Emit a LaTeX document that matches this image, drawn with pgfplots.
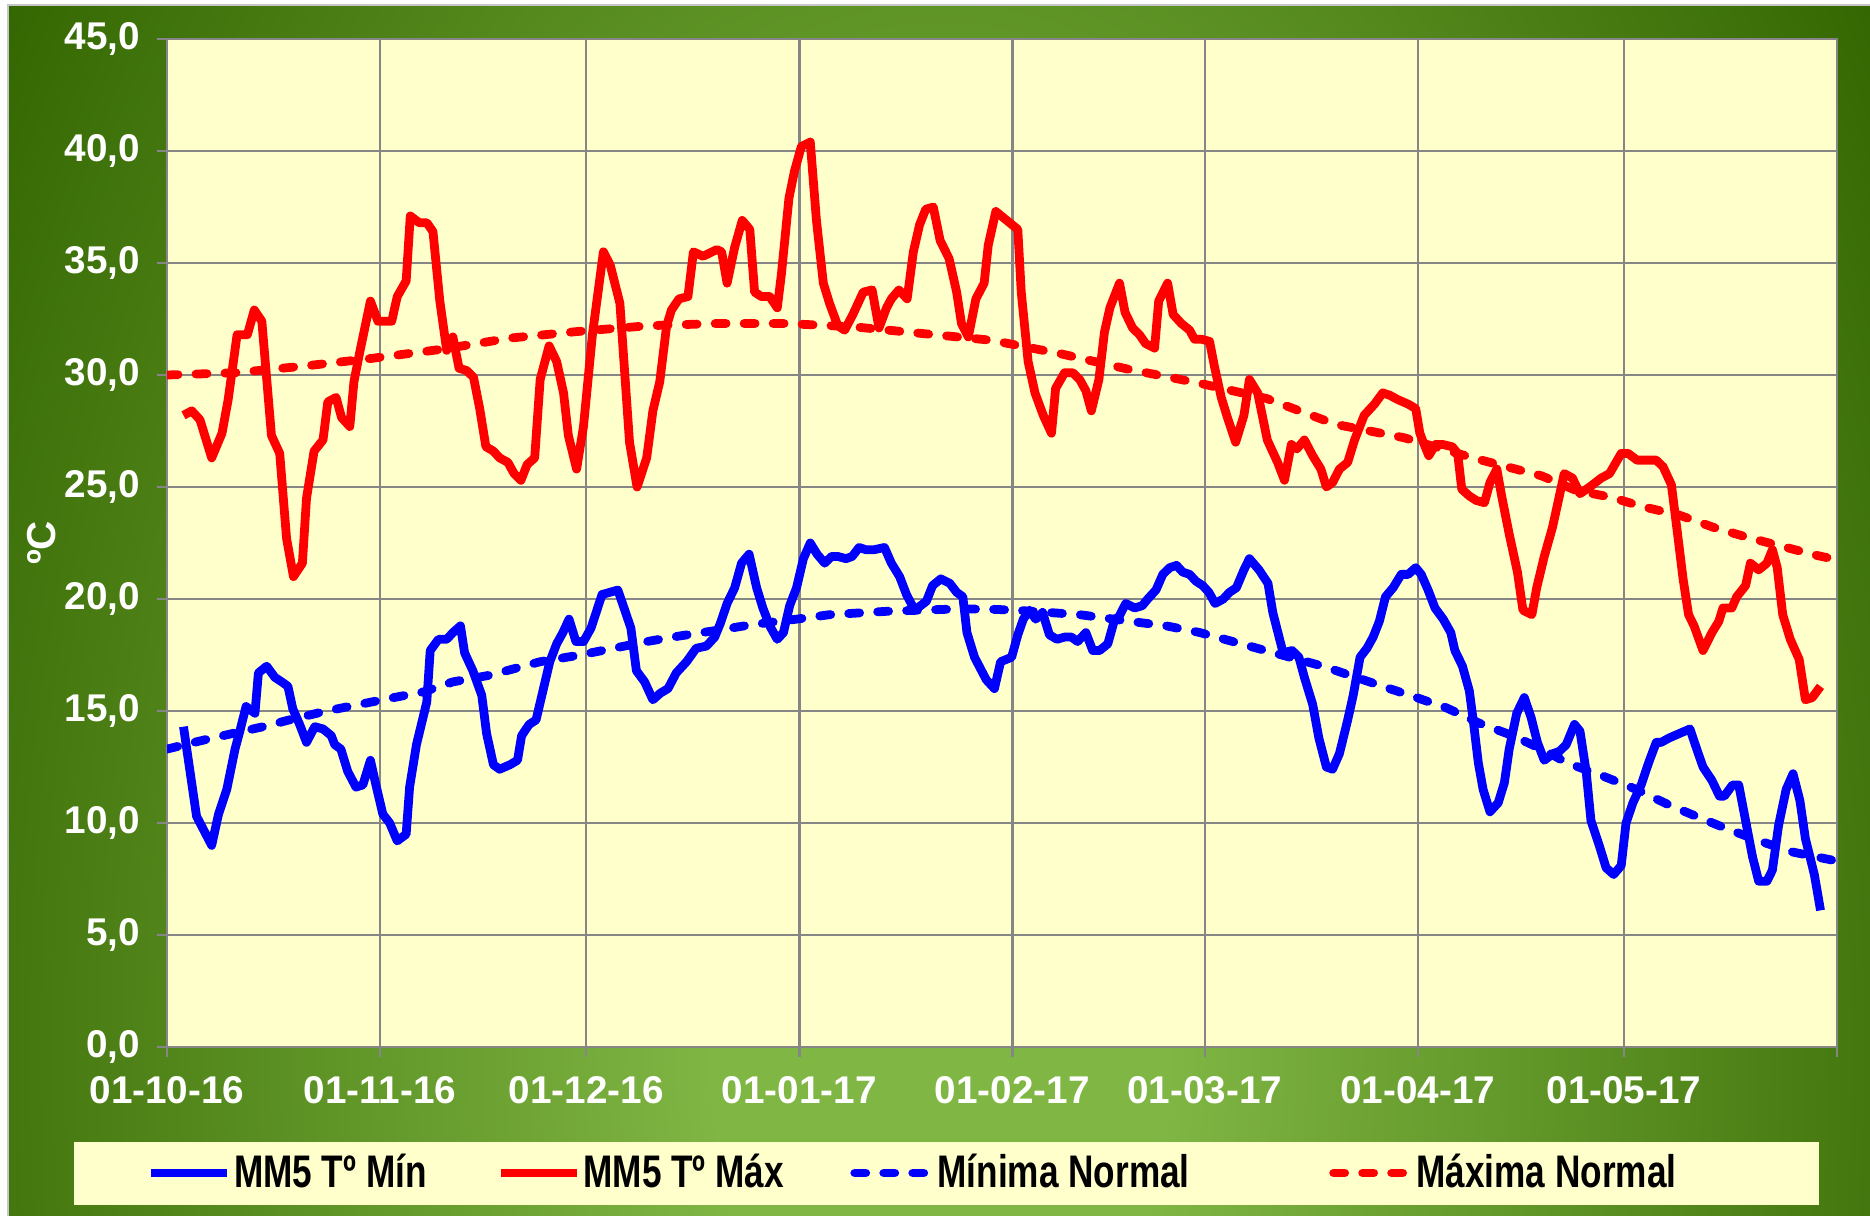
\documentclass[border=0pt]{standalone}
\usepackage{fontspec}
\setmainfont{Liberation Sans}
\newfontfamily\legfont{Liberation Sans}[FakeStretch=0.77]
\usepackage{pgfplots}
\pgfplotsset{compat=1.18}

\definecolor{plotbg}{RGB}{255,255,204}
\definecolor{bgdark}{RGB}{51,102,0}
\definecolor{bglight}{RGB}{128,182,68}
\definecolor{gridgray}{RGB}{134,134,134}
\pgfdeclareradialshading{panel}{\pgfpointorigin}{color(0bp)=(bglight); color(6bp)=(bglight); color(30bp)=(bgdark); color(50bp)=(bgdark)}

% daily 5-day moving averages, x = days since 01-10-16
\pgfplotstableread{
d t
2.4 14.3
4.3 10.3
6.5 9.0
7.5 10.4
8.7 11.5
9.9 13.3
10.6 14.1
11.5 15.2
12.8 14.9
13.3 16.7
14.5 17.0
15.7 16.5
16.7 16.3
17.6 16.1
18.3 15.1
19.3 14.4
20.3 13.6
21.5 14.3
22.7 14.2
23.9 13.9
24.4 13.5
25.3 13.3
26.3 12.3
27.5 11.6
28.5 11.7
29.6 12.8
30.4 11.7
31.4 10.4
32.4 10.0
33.5 9.2
34.8 9.5
35.3 11.6
36.3 13.5
37.8 15.4
38.3 17.7
39.5 18.2
40.7 18.2
41.6 18.5
42.7 18.8
43.3 17.6
44.5 16.8
45.8 15.7
46.5 14.0
47.5 12.6
48.4 12.4
49.9 12.6
51.0 12.8
51.6 13.9
52.7 14.4
53.7 14.6
54.7 15.9
55.7 17.2
56.7 18.0
57.6 18.5
58.5 19.1
59.5 18.1
60.6 18.1
61.7 18.7
63.3 20.2
65.6 20.4
66.5 19.6
67.5 18.7
68.3 16.8
69.5 16.3
70.7 15.5
71.8 15.8
72.9 16.0
74.1 16.7
75.6 17.2
77.0 17.8
78.5 17.9
79.7 18.3
80.5 18.9
81.5 19.8
82.6 20.5
83.6 21.6
84.7 22.0
85.8 20.5
86.7 19.6
87.7 18.8
88.8 18.2
89.7 18.5
90.6 19.7
91.6 20.5
92.6 21.8
93.6 22.5
94.6 22.0
95.7 21.6
96.7 21.9
97.6 21.9
98.8 21.8
99.7 21.9
100.7 22.3
101.7 22.2
102.9 22.2
104.4 22.3
105.4 21.6
106.6 21.0
107.6 20.2
108.8 19.5
110.5 19.9
111.4 20.6
112.6 20.9
113.9 20.7
114.9 20.3
115.8 20.1
116.4 18.5
117.5 17.4
119.2 16.4
120.4 16.0
121.3 17.2
122.9 17.4
123.8 18.4
124.6 19.1
125.5 19.5
126.4 19.1
127.4 19.4
128.4 18.4
129.5 18.2
130.6 18.3
131.6 18.3
132.5 18.1
133.7 18.5
134.7 17.7
135.7 17.7
136.9 18.0
137.9 19.1
138.5 19.2
139.5 19.8
140.8 19.6
141.9 19.7
142.7 20.0
143.9 20.4
144.9 21.1
145.9 21.4
146.9 21.5
147.8 21.2
148.8 21.1
149.7 20.8
150.7 20.6
151.6 20.3
152.5 19.8
153.7 20.0
154.6 20.3
155.6 20.5
156.7 21.3
157.5 21.8
158.9 21.3
160.2 20.7
160.9 19.4
162.4 17.6
163.7 17.7
164.7 17.4
165.5 16.5
166.7 15.3
167.6 13.8
168.7 12.5
169.6 12.4
170.6 13.1
171.8 14.6
172.6 15.7
173.6 17.4
174.6 17.8
175.5 18.3
176.4 19.0
177.3 20.1
178.4 20.5
179.6 21.1
180.6 21.1
181.7 21.4
182.5 21.1
183.5 20.4
184.5 19.6
185.7 19.1
186.8 18.5
187.4 17.7
188.5 17.0
189.5 15.9
190.1 14.5
190.8 12.7
191.5 11.5
192.5 10.5
193.7 10.9
194.6 11.8
195.3 13.3
196.4 14.9
197.5 15.6
198.5 14.7
199.4 13.6
200.4 12.8
201.7 13.1
202.6 13.2
203.6 13.5
204.8 14.4
205.6 14.1
206.5 12.3
207.2 10.1
208.4 9.0
209.4 8.0
210.5 7.7
211.6 8.1
212.3 10.0
213.3 10.9
214.5 11.7
215.6 12.7
216.7 13.6
217.4 13.6
218.6 13.8
220.1 14.0
221.6 14.2
222.7 13.2
223.5 12.5
224.8 11.9
225.9 11.2
226.6 11.2
227.8 11.7
228.7 11.7
229.7 10.1
230.7 8.5
231.6 7.4
232.8 7.4
233.6 7.9
234.5 9.9
235.6 11.5
236.6 12.2
237.6 11.0
238.4 9.3
239.7 7.7
240.6 6.1
}\tmin

\pgfplotstableread{
d t
2.4 28.2
3.6 28.4
4.8 28.0
6.5 26.3
8.0 27.4
8.9 28.9
10.2 31.8
11.7 31.8
12.7 32.9
13.8 32.4
15.2 27.3
16.4 26.5
17.4 22.7
18.4 21.0
19.7 21.6
20.3 24.5
21.4 26.6
22.7 27.1
23.4 28.8
24.6 29.0
25.4 28.1
26.6 27.7
27.2 29.7
28.1 31.1
29.6 33.3
30.7 32.4
32.7 32.4
33.5 33.5
34.8 34.2
35.4 37.1
36.7 36.8
37.8 36.8
38.7 36.4
39.7 33.3
40.7 31.1
41.6 31.7
42.5 30.3
43.6 30.2
44.6 29.9
45.5 28.5
46.4 26.8
47.5 26.6
48.4 26.3
49.6 26.1
50.5 25.6
51.5 25.3
52.4 26.0
53.5 26.3
54.3 29.8
55.6 31.3
56.7 30.6
57.7 29.2
58.4 27.3
59.6 25.8
60.6 27.7
61.9 31.8
63.5 35.5
64.5 34.9
65.9 33.2
67.3 27.0
68.4 25.0
69.8 26.3
70.7 28.4
71.7 29.7
72.7 32.2
73.4 32.9
74.5 33.4
75.8 33.5
76.6 35.5
78.0 35.3
80.0 35.6
80.7 35.5
81.5 34.1
82.6 35.7
83.7 36.9
84.8 36.5
85.5 33.7
86.5 33.5
87.7 33.5
88.8 33.0
89.4 34.5
90.5 37.9
91.3 39.1
92.3 40.2
93.6 40.4
94.5 36.9
95.5 34.1
96.4 33.2
97.6 32.2
98.6 32.0
99.8 32.7
101.3 33.7
102.6 33.8
103.6 32.1
104.7 33.0
105.4 33.4
106.5 33.8
107.7 33.4
108.6 35.5
109.5 36.7
110.4 37.4
111.5 37.5
112.5 36.0
113.8 35.2
114.9 33.7
115.6 32.3
116.6 31.7
117.7 33.4
118.9 34.1
119.5 35.8
120.6 37.3
122.6 36.8
123.8 36.5
124.3 33.7
125.3 30.6
126.3 29.2
127.5 28.2
128.7 27.4
129.3 29.4
130.6 30.1
131.8 30.1
132.8 29.8
133.7 29.3
134.5 28.4
135.6 29.8
136.4 31.9
137.2 33.0
138.6 34.1
139.4 32.8
140.5 32.1
141.5 31.8
142.4 31.4
143.7 31.2
144.3 33.3
145.6 34.1
146.4 32.7
147.6 32.3
148.8 32.0
149.5 31.6
150.5 31.6
151.7 31.5
152.4 30.4
153.4 29.0
154.3 28.1
155.5 27.0
156.7 28.2
157.5 29.8
158.7 29.2
160.1 27.1
161.6 26.1
162.6 25.3
163.6 26.9
164.4 26.7
165.5 27.1
166.7 26.4
167.9 25.8
168.7 25.0
169.6 25.2
170.6 25.8
171.8 26.1
172.8 27.1
174.2 28.2
175.7 28.7
176.9 29.2
177.9 29.1
179.1 28.9
180.6 28.7
181.7 28.5
182.3 27.4
182.8 27.0
183.6 26.4
184.6 26.9
185.6 26.9
187.0 26.8
187.8 26.5
188.4 24.9
189.5 24.6
190.5 24.4
191.7 24.3
192.5 25.2
193.5 25.8
194.2 24.6
195.3 22.9
196.5 21.2
197.3 19.5
198.6 19.3
199.3 20.5
200.4 21.9
201.6 23.2
202.6 24.6
203.3 25.6
204.5 25.4
205.6 24.7
207.0 25.0
208.7 25.4
209.9 25.6
211.6 26.5
212.6 26.5
213.9 26.2
215.1 26.2
216.7 26.2
217.7 25.9
218.9 25.1
219.8 22.9
220.6 20.9
221.4 19.3
222.2 18.8
223.5 17.7
224.8 18.5
225.8 19.0
226.4 19.6
227.7 19.6
228.4 20.1
229.7 20.6
230.4 21.6
231.6 21.3
232.8 21.6
233.6 22.2
234.3 21.4
235.1 19.3
236.2 18.2
237.5 17.3
238.4 15.5
239.4 15.6
240.6 16.1
}\tmax

\pgfplotstableread{
d t
0 13.3
5.3 13.7
9.6 14.0
14.0 14.3
18.4 14.65
23.2 15.0
28.1 15.3
33.0 15.6
37.3 15.85
41.6 16.3
47.0 16.6
54.3 17.2
60.1 17.5
65.0 17.8
69.8 18.1
74.6 18.35
80.0 18.6
85.0 18.85
91.6 19.1
96.4 19.3
104.7 19.45
114.4 19.55
119.2 19.55
123.6 19.5
132.8 19.3
141.5 18.95
145.4 18.8
150.3 18.5
155.1 18.1
161.0 17.6
168.2 17.0
176.4 16.15
181.8 15.6
186.1 15.15
191.0 14.45
195.8 13.9
200.7 13.2
203.6 12.7
208.9 12.1
213.8 11.5
218.6 10.8
222.5 10.3
226.9 9.75
231.7 9.2
236.6 8.7
241.4 8.4
243.0 8.3
}\nmin

\pgfplotstableread{
d t
0 30.0
10 30.1
20 30.4
30 30.75
40 31.15
50 31.65
60 31.95
70 32.2
80 32.3
90 32.3
100 32.15
110 31.85
120 31.55
125 31.25
130 30.95
140 30.25
150 29.65
160 28.95
170 27.8
180 27.2
190 26.3
200 25.5
205 24.85
210 24.55
215 24.1
220 23.75
225 23.2
230 22.75
235 22.35
240 21.95
243 21.75
}\nmax

\begin{document}
\begin{tikzpicture}
\useasboundingbox (0,0) rectangle (18.70,-12.16);
\fill[white] (0,0) rectangle (18.70,-12.16);
\begin{scope}
  \clip (0.08,-0.05) rectangle (18.70,-12.16);
  \shade[shading=panel] (0,5.5) rectangle (18.8,-26.5);
\end{scope}
\draw[gray!45, line width=0.8pt] (0.08,-12.16) -- (0.08,-0.05) -- (18.70,-0.05);
\fill[plotbg] (0.74,-11.42) rectangle (18.19,-12.045);

\begin{axis}[
  at={(1.67cm,-10.47cm)}, anchor=south west,
  scale only axis, width=16.70cm, height=10.08cm,
  xmin=0, xmax=243, ymin=0, ymax=45,
  axis background/.style={fill=plotbg},
  axis line style={gridgray, line width=0.8pt},
  grid=major, major grid style={gridgray, line width=0.7pt},
  xtick={0,31,61,92,123,151,182,212,243},
  xticklabels={01-10-16,01-11-16,01-12-16,01-01-17,01-02-17,01-03-17,01-04-17,01-05-17,{}},
  ytick={0,5,...,45},
  xtick pos=left, ytick pos=left,
  tick align=outside, major tick length=0.1cm,
  tick style={gridgray, line width=0.7pt},
  ticklabel style={text=white, font=\fontsize{11}{13}\selectfont\bfseries},
  yticklabel style={xshift=-0.046cm, /pgf/number format/.cd, fixed, fixed zerofill, precision=1, use comma, assume math mode=true},
  xticklabel style={yshift=-0.07cm},
  ylabel={ºC},
  ylabel style={text=white, font=\fontsize{11.5}{13}\selectfont\bfseries, at={(axis description cs:-0.0749,0.5)}, anchor=center},
  legend columns=4,
  legend cell align=left,
  legend image code/.code={\draw[#1] (0cm,0cm) -- (0.76cm,0cm);},
  legend style={at={(axis description cs:-0.0125,-0.125)}, anchor=west, draw=none, fill=none, inner sep=0pt,
    font=\legfont\bfseries\fontsize{13}{15}\selectfont,
    nodes={inner sep=0.7pt, text=black},
    /tikz/column 2/.style={column sep=0.67cm},
    /tikz/column 4/.style={column sep=0.64cm},
    /tikz/column 6/.style={column sep=1.37cm}},
]
\addplot[blue, line width=2.5pt, line join=round] table[x=d, y=t] {\tmin};
\addlegendentry{MM5 Tº Mín}
\addplot[red, line width=2.5pt, line join=round] table[x=d, y=t] {\tmax};
\addlegendentry{MM5 Tº Máx}
\addplot[blue, line width=2.5pt, line cap=round, dash pattern=on 0.11cm off 0.18cm] table[x=d, y=t] {\nmin};
\addlegendentry{Mínima Normal}
\addplot[red, line width=2.5pt, line cap=round, dash pattern=on 0.11cm off 0.18cm] table[x=d, y=t] {\nmax};
\addlegendentry{Máxima Normal}
\end{axis}
\end{tikzpicture}
\end{document}
